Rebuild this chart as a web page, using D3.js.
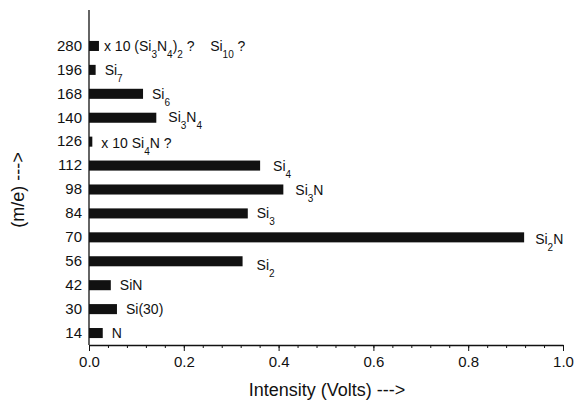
<!DOCTYPE html>
<meta charset="utf-8">
<style>
  body { margin: 0; background: #fff; }
  svg text { font-family: "Liberation Sans", Arial, sans-serif; fill: #111; }
  .tick text { font-size: 15px; }
  .barlabel { font-size: 14px; white-space: pre; }
  .title { font-size: 18px; }
</style>
<script src="https://d3js.org/d3.v7.min.js"></script>
<div id="chart"></div>
<script>
// m/e categories, bottom to top
var masses = ["14", "30", "42", "56", "70", "84", "98", "112", "126", "140", "168", "196", "280"];
// intensity in volts
var intensity = [0.029, 0.059, 0.046, 0.324, 0.918, 0.335, 0.41, 0.361, 0.007, 0.142, 0.114, 0.014, 0.021];
// species labels, "_n" marks a subscript
var species = ["N", "Si(30)", "SiN", "Si_2", "Si_2N", "Si_3", "Si_3N", "Si_4", "x 10 Si_4N ?",
               "Si_3N_4", "Si_6", "Si_7", "x 10 (Si_3N_4)_2 ?    Si_10 ?"];
var xTicks = [0, 0.2, 0.4, 0.6, 0.8, 1.0];

// small label nudges (dx, dy) where the original sits off the usual spot
var nudge = {"280": [5, 5], "126": [9, 6], "56": [14, 9], "70": [11, 7], "112": [13, 5], "140": [12, 4], "98": [12, 5]};

var W = 574, H = 400;
var svg = d3.select("#chart").append("svg")
    .attr("width", W)
    .attr("height", H);

var x = d3.scaleLinear().domain([0, 1]).range([89, 563]);
var y = d3.scaleBand()
    .domain(masses)
    .range([345, 34])
    .paddingInner(0.58)
    .paddingOuter(0.29);

var data = masses.map(function(m, i) {
  return {m: m, v: intensity[i], label: species[i]};
});

// bars
svg.selectAll("rect.bar")
  .data(data)
  .enter().append("rect")
    .attr("class", "bar")
    .attr("x", x(0))
    .attr("y", function(d) { return y(d.m); })
    .attr("width", function(d) { return x(d.v) - x(0); })
    .attr("height", y.bandwidth())
    .attr("fill", "#111");

// bar labels with subscripts
var lab = svg.selectAll("text.barlabel")
  .data(data)
  .enter().append("text")
    .attr("class", "barlabel")
    .attr("x", function(d) { var n = nudge[d.m]; return x(d.v) + (n ? n[0] : 9); })
    .attr("y", function(d) { var n = nudge[d.m]; return y(d.m) + y.bandwidth() / 2 + (n ? n[1] : 5); });

lab.each(function(d) {
  var t = d3.select(this);
  var parts = d.label.split(/(_\d+)/).filter(function(p) { return p !== ""; });
  var shift = 0;
  parts.forEach(function(p) {
    var sub = p[0] === "_";
    var want = sub ? 7 : 0;
    t.append("tspan")
      .attr("dy", want - shift)
      .style("font-size", sub ? "10px" : null)
      .text(sub ? p.slice(1) : p);
    shift = want;
  });
});

// y axis
var yAxis = svg.append("g")
    .attr("transform", "translate(" + x(0) + ",0)")
    .call(d3.axisLeft(y).tickSize(0).tickPadding(7));
yAxis.select(".domain").remove();
svg.append("line")
    .attr("x1", x(0)).attr("x2", x(0))
    .attr("y1", 10).attr("y2", 345)
    .attr("stroke", "#111").attr("stroke-width", 1.3);

// x axis, minor then major ticks
svg.append("g")
    .attr("transform", "translate(0,345)")
    .call(d3.axisBottom(x).tickValues(d3.range(0, 25).map(function(i) { return i * 0.04; }).concat([1]))
      .tickSize(3).tickFormat(""))
    .call(function(g) { g.select(".domain").remove(); })
    .selectAll("line").attr("stroke", "#111");

var xAxis = svg.append("g")
    .attr("transform", "translate(0,345)")
    .call(d3.axisBottom(x).tickValues(xTicks).tickSize(6).tickSizeOuter(0).tickPadding(5)
      .tickFormat(d3.format(".1f")));
xAxis.select(".domain").attr("stroke", "#111").attr("stroke-width", 1.3);
xAxis.selectAll("line").attr("stroke", "#111");

// titles
svg.append("text")
    .attr("class", "title")
    .attr("x", 327)
    .attr("y", 396)
    .attr("text-anchor", "middle")
    .text("Intensity (Volts) --->");

svg.append("text")
    .attr("class", "title")
    .attr("transform", "translate(24,190)rotate(-90)")
    .attr("text-anchor", "middle")
    .text("(m/e) --->");
</script>
